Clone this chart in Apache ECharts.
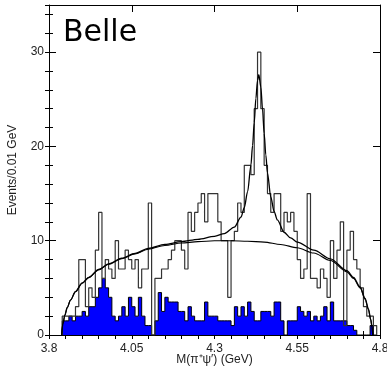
<!DOCTYPE html>
<html>
<head>
<meta charset="utf-8">
<script src="https://cdn.jsdelivr.net/npm/echarts@6/dist/echarts.min.js"></script>
<style>html,body{margin:0;padding:0;background:#fff}#c{width:387px;height:368px}</style>
</head>
<body>
<div id="c"></div>
<script>
// ---- data ----
const axisLow = 3.8;            // GeV, left end of x axis
const binLow = 3.84;            // GeV, left edge of first filled bin
const binWidth = 0.01;          // GeV
const xTickLabels = ['3.8', '4.05', '4.3', '4.55', '4.8'];
const yTickLabels = ['0', '10', '20', '30'];

// Events per 0.01 GeV, bins from 3.84 to 4.78
const dataCounts = [
  2, 2, 2, 2, 3, 8, 8, 3, 5, 4,
  9, 13, 6, 8, 7, 6, 10, 7, 7, 9,
  8, 7, 8, 5, 7, 7, 14, 0, 6, 6,
  7, 7, 8, 9, 10, 10, 9, 7, 13, 11,
  13, 14, 15, 12, 15, 15, 15, 12, 10, 10,
  4, 10, 11, 14, 13, 18, 18, 17, 24, 30,
  24, 18, 15, 13, 15, 15, 11, 13, 12, 13,
  11, 8, 6, 7, 15, 6, 6, 5, 7, 6,
  4, 10, 6, 9, 12, 1, 9, 11, 8, 7,
  5, 3, 2, 2, 1
];
// background (blue filled) per bin, same bins
const bkgCounts = [
  1.5, 1.5, 2, 1.5, 2, 2, 2.5, 2, 3, 3,
  4, 5, 6, 5, 4, 2, 1.5, 2, 3, 2,
  4, 3, 2, 4, 2, 1, 1, 0, 1.5, 4.5,
  2.5, 4, 3.5, 3.5, 3.5, 2.5, 2.5, 1.5, 3, 2,
  1.5, 1.5, 1.5, 3.5, 2, 2, 2, 1.5, 1.5, 1.5,
  1.5, 1, 3, 2, 3, 2, 3.5, 2.5, 1.5, 1.5,
  2.5, 2.5, 2.5, 2, 3.5, 3.5, 1.5, 0, 1.5, 1.5,
  1.5, 3, 2.5, 2, 2.5, 1.5, 2, 1.5, 2, 3,
  1.5, 3.5, 1.5, 1.5, 1.5, 1.5, 1, 1, 0.5, 0,
  0, 0, 0, 1, 0
];
// fitted background curve
const bgCurveX = [3.838, 3.842, 3.848, 3.855, 3.865, 3.88, 3.90, 3.92, 3.95, 3.98,
  4.02, 4.06, 4.10, 4.15, 4.20, 4.25, 4.30, 4.35, 4.40, 4.45,
  4.50, 4.55, 4.60, 4.65, 4.70, 4.72, 4.74, 4.755, 4.765, 4.772, 4.776, 4.778];
const bgCurveY = [0, 1.2, 2.1, 2.9, 3.7, 4.6, 5.5, 6.1, 6.9, 7.5,
  8.1, 8.6, 9.1, 9.5, 9.75, 9.9, 10.0, 10.0, 9.95, 9.85,
  9.6, 9.25, 8.7, 7.9, 6.7, 6.0, 5.0, 3.8, 2.7, 1.6, 0.8, 0];
// total fit curve (signal + background)
const totCurveX = [3.838, 3.842, 3.848, 3.855, 3.865, 3.88, 3.90, 3.92, 3.95, 3.98,
  4.02, 4.06, 4.10, 4.15, 4.20, 4.25, 4.30, 4.33, 4.36, 4.38,
  4.39, 4.40, 4.41, 4.415, 4.42, 4.425, 4.43, 4.434, 4.44, 4.445,
  4.45, 4.455, 4.46, 4.47, 4.48, 4.49, 4.51, 4.53, 4.55, 4.60,
  4.65, 4.70, 4.72, 4.74, 4.755, 4.765, 4.772, 4.776, 4.778];
const totCurveY = [0, 1.2, 2.1, 2.9, 3.7, 4.6, 5.5, 6.1, 6.95, 7.55,
  8.15, 8.65, 9.18, 9.61, 9.9, 10.15, 10.46, 10.76, 11.44, 12.5,
  13.5, 15.2, 18.0, 20.1, 22.5, 25.1, 27.0, 27.6, 26.3, 24.0,
  21.4, 19.1, 17.2, 14.65, 13.1, 12.2, 10.9, 10.3, 9.86, 9.0,
  8.08, 6.82, 6.1, 5.09, 3.88, 2.78, 1.65, 0.85, 0];

// ---- build step outlines from the bins ----
function rx(v) { return Math.round((v - axisLow) * 10000) / 10000; }
function stepData(counts) {
  const pts = [[rx(binLow), 0]];
  for (let i = 0; i < counts.length; i++) pts.push([rx(binLow + i * binWidth), counts[i]]);
  const end = rx(binLow + counts.length * binWidth);
  pts.push([end, counts[counts.length - 1]]);
  pts.push([end, 0]);
  return pts;
}
function curveData(xs, ys) { return xs.map((x, i) => [rx(x), ys[i]]); }

const font = '"Liberation Sans", Arial, sans-serif';
const baseX = { type: 'value', min: 0, max: 1, splitLine: { show: false } };
const baseY = { type: 'value', min: 0, max: 35, splitLine: { show: false } };
const lineSt = { color: '#000', width: 1 };

const chart = echarts.init(document.getElementById('c'), null, { renderer: 'canvas' });
chart.setOption({
  animation: false,
  grid: { left: 49, right: 7, top: 5, bottom: 33, containLabel: false, outerBoundsMode: 'none' },
  xAxis: [
    Object.assign({}, baseX, {
      position: 'bottom', interval: 0.25,
      axisLine: { onZero: false, lineStyle: lineSt },
      axisTick: { inside: true, length: 7, lineStyle: lineSt },
      axisLabel: { fontFamily: font, fontSize: 12, color: '#222', margin: 8,
        formatter: v => xTickLabels[Math.round(v / 0.25)] },
      name: 'M(π⁺ψ′) (GeV)', nameLocation: 'middle', nameGap: 19, nameMoveOverlap: false,
      nameTextStyle: { fontFamily: font, fontSize: 12, color: '#222' }
    }),
    Object.assign({}, baseX, {
      position: 'bottom', interval: 0.05,
      axisLine: { show: false }, axisTick: { inside: true, length: 4, lineStyle: lineSt },
      axisLabel: { show: false }
    }),
    Object.assign({}, baseX, {
      position: 'top', interval: 0.25,
      axisLine: { onZero: false, lineStyle: lineSt },
      axisTick: { inside: true, length: 7, lineStyle: lineSt },
      axisLabel: { show: false }
    }),
    Object.assign({}, baseX, {
      position: 'top', interval: 0.05,
      axisLine: { show: false }, axisTick: { inside: true, length: 4, lineStyle: lineSt },
      axisLabel: { show: false }
    })
  ],
  yAxis: [
    Object.assign({}, baseY, {
      position: 'left', interval: 10,
      axisLine: { onZero: false, lineStyle: lineSt },
      axisTick: { inside: true, length: 7, lineStyle: lineSt },
      axisLabel: { fontFamily: font, fontSize: 12, color: '#222', margin: 5, showMaxLabel: false,
        formatter: v => (yTickLabels[Math.round(v / 10)] || '') },
      name: 'Events/0.01 GeV', nameLocation: 'middle', nameGap: 30, nameRotate: 90, nameMoveOverlap: false,
      nameTextStyle: { fontFamily: font, fontSize: 12, color: '#222' }
    }),
    Object.assign({}, baseY, {
      position: 'left', interval: 2,
      axisLine: { show: false }, axisTick: { inside: true, length: 4, lineStyle: lineSt },
      axisLabel: { show: false }
    }),
    Object.assign({}, baseY, {
      position: 'right', interval: 10,
      axisLine: { onZero: false, lineStyle: lineSt },
      axisTick: { inside: true, length: 7, lineStyle: lineSt },
      axisLabel: { show: false }
    }),
    Object.assign({}, baseY, {
      position: 'right', interval: 2,
      axisLine: { show: false }, axisTick: { inside: true, length: 4, lineStyle: lineSt },
      axisLabel: { show: false }
    })
  ],
  graphic: [{
    type: 'text', left: 63, top: 18,
    style: { text: 'Belle', font: '30px "DejaVu Sans"', fill: '#000' }
  }],
  series: [
    {
      type: 'line', step: 'end', xAxisIndex: 0, yAxisIndex: 0,
      data: stepData(bkgCounts), showSymbol: false, symbol: 'none',
      lineStyle: { color: '#000', width: 1 },
      areaStyle: { color: '#0000ff', opacity: 1 }, z: 2
    },
    {
      type: 'line', step: 'end', xAxisIndex: 0, yAxisIndex: 0,
      data: stepData(dataCounts), showSymbol: false, symbol: 'none',
      lineStyle: { color: '#333', width: 1.2 }, z: 3
    },
    {
      type: 'line', xAxisIndex: 0, yAxisIndex: 0, smooth: 0.3, smoothMonotone: 'x',
      data: curveData(bgCurveX, bgCurveY), showSymbol: false, symbol: 'none',
      lineStyle: { color: '#000', width: 1.1 }, z: 4
    },
    {
      type: 'line', xAxisIndex: 0, yAxisIndex: 0, smooth: 0.3, smoothMonotone: 'x',
      data: curveData(totCurveX, totCurveY), showSymbol: false, symbol: 'none',
      lineStyle: { color: '#000', width: 1.3 }, z: 5
    }
  ]
});
</script>
</body>
</html>
